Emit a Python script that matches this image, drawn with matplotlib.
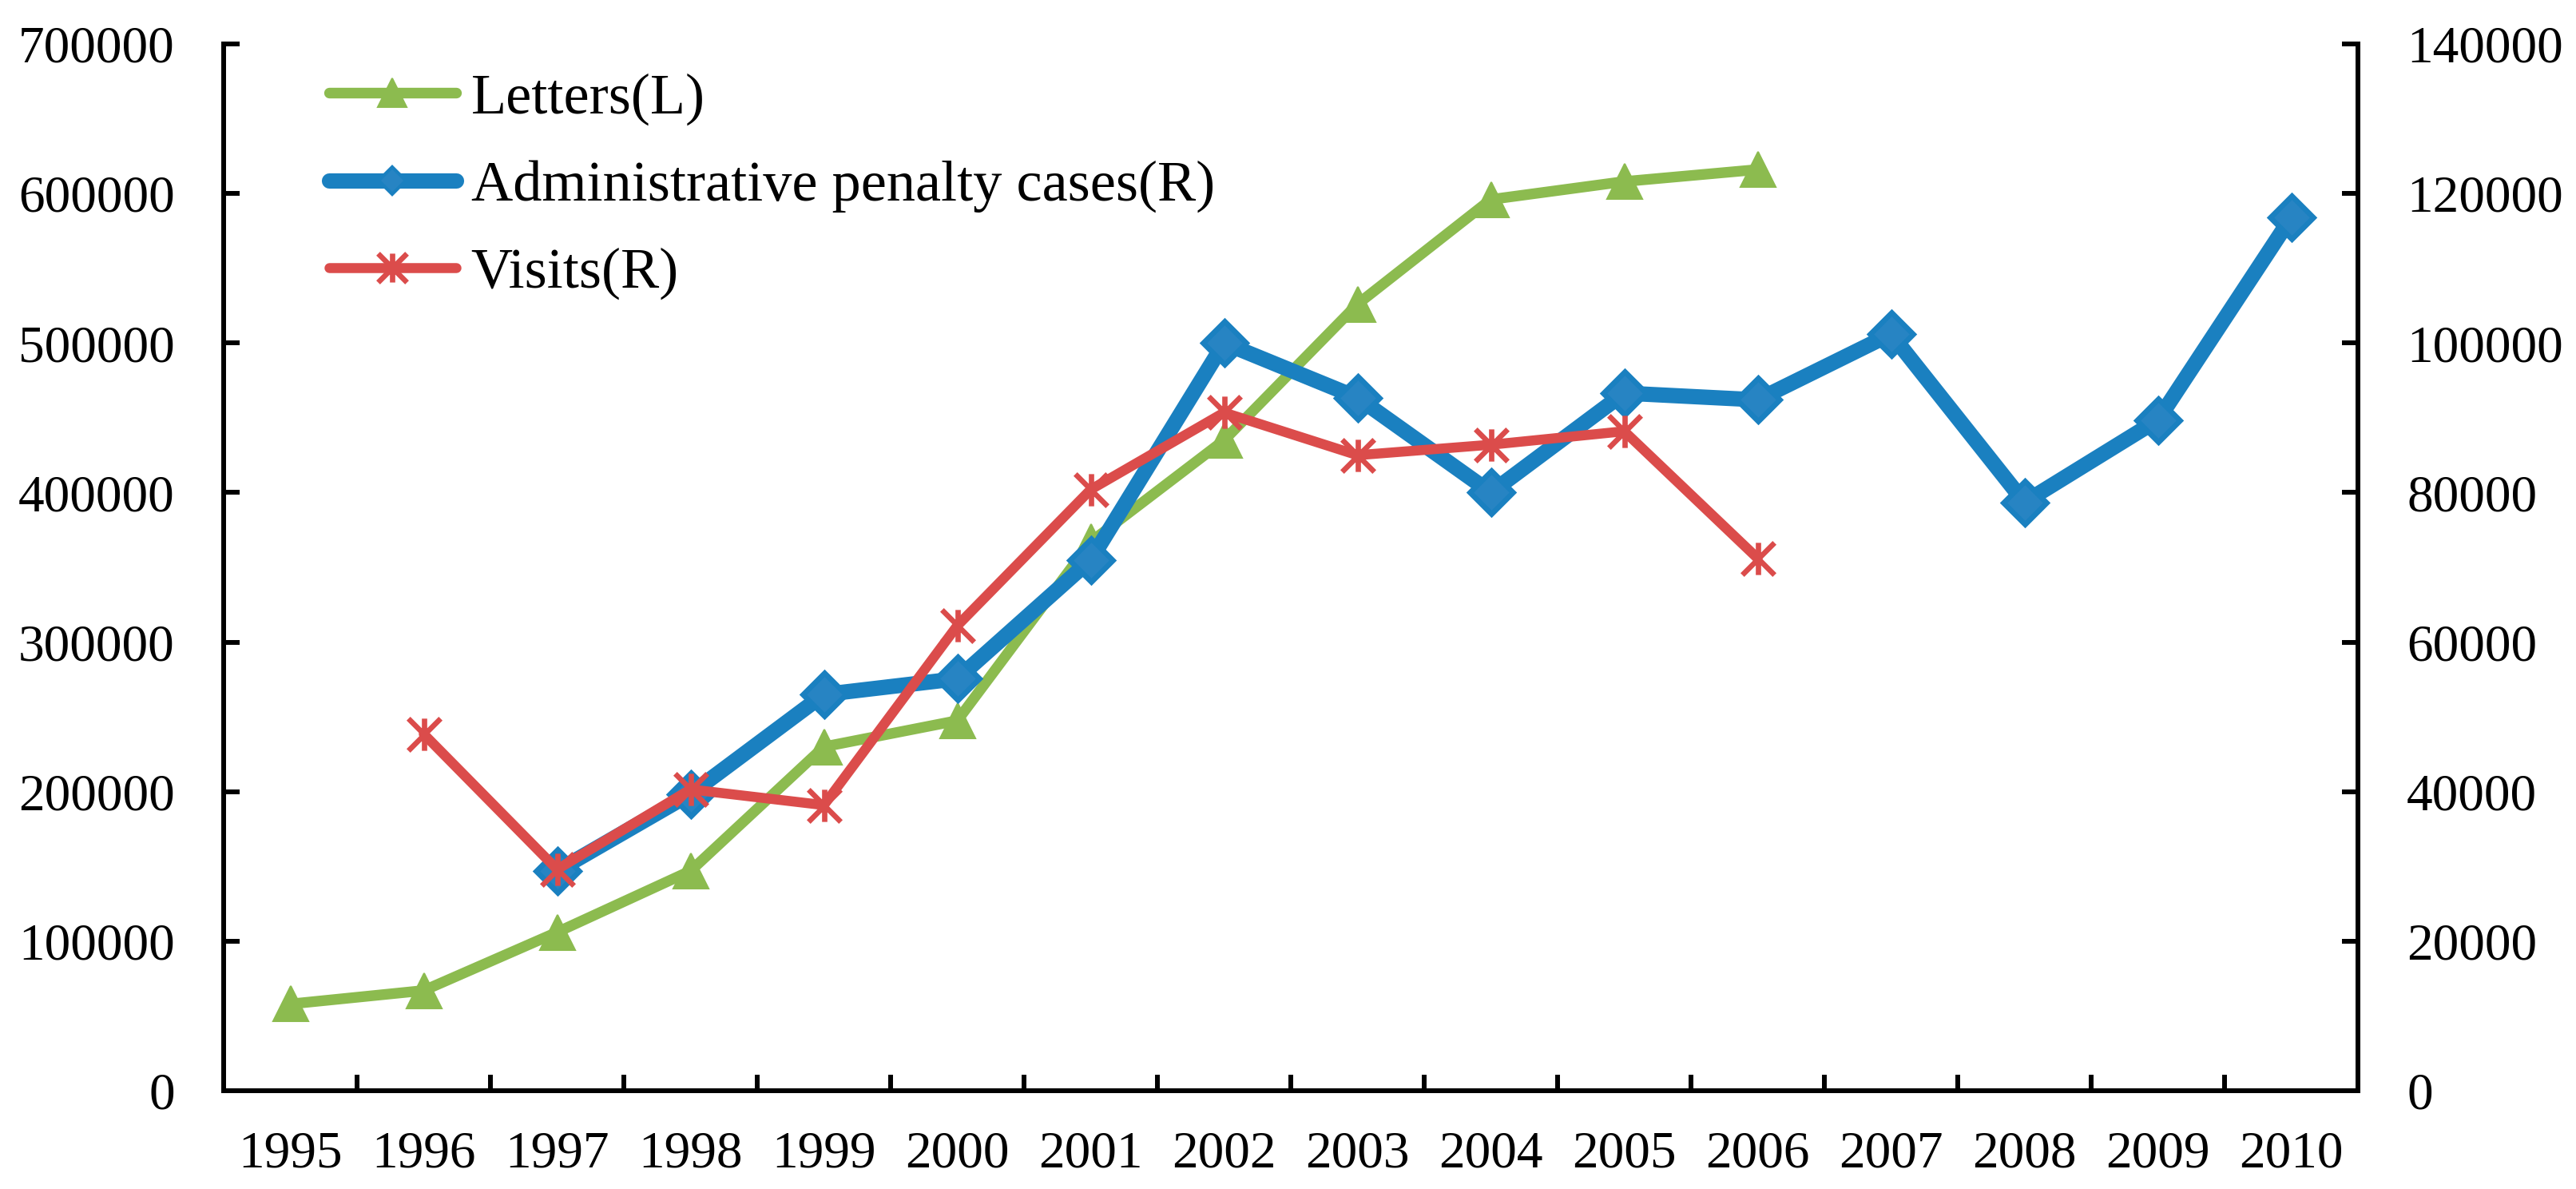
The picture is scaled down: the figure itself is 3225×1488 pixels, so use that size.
import matplotlib
matplotlib.use("Agg")
import matplotlib.pyplot as plt
import numpy as np
from matplotlib.lines import Line2D
from matplotlib.path import Path
from matplotlib.ticker import StrMethodFormatter

# data (None = no value for that year)
years = [str(y) for y in range(1995, 2011)]
letters = [58000, 67000, 106000, 147000, 230000, 247500, 367000, 435000,
           526000, 596000, 608000, 616000, None, None, None, None]
penalty_cases = [None, None, 29400, 39700, 53000, 55100, 71000, 100000,
                 92700, 80000, 93300, 92400, 101200, 78700, 89700, 116800]
visits = [None, 47700, 29600, 40300, 38200, 62200, 80400, 90700,
          85000, 86400, 88200, 71200, None, None, None, None]

left_ticks = list(range(0, 700001, 100000))
right_ticks = list(range(0, 140001, 20000))

green = '#8cbb4f'
blue = '#1a80c0'
blue_face = '#2784c3'
red = '#db4c4b'

plt.rcParams['font.family'] = ['Liberation Serif', 'DejaVu Serif']

# star marker: vertical bar plus an X
star = Path([(0, -1), (0, 1), (-1, -1), (1, 1), (-1, 1), (1, -1)],
            [Path.MOVETO, Path.LINETO] * 3)


def to_arr(vals):
    return np.array([np.nan if v is None else v for v in vals], dtype=float)


x = np.arange(len(years))

fig = plt.figure(figsize=(32.25, 14.88), dpi=100)
ax = fig.add_axes([280 / 3225, 123 / 1488, (2952 - 280) / 3225, (1365 - 55) / 1488])
ax2 = ax.twinx()

# left axis series
ax.plot(x, to_arr(letters), color=green, lw=9.6, marker='^', ms=32,
        mfc=green, mec=green, mew=1.5, solid_capstyle='round',
        solid_joinstyle='round', zorder=3)

# right axis series
ax2.plot(x, to_arr(penalty_cases), color=blue, lw=13.8, marker='D', ms=28,
         mfc=blue_face, mec=blue, mew=4.8, solid_capstyle='round',
         solid_joinstyle='round', zorder=3)
ax2.plot(x, to_arr(visits), color=red, lw=9.0, marker=star, ms=29,
         mfc='none', mec=red, mew=4.8, solid_capstyle='round',
         solid_joinstyle='round', zorder=4)

ax.set_xlim(-0.5, len(years) - 0.5)
ax.set_ylim(0, 700000)
ax2.set_ylim(0, 140000)

ax.set_yticks(left_ticks)
ax2.set_yticks(right_ticks)
ax.yaxis.set_major_formatter(StrMethodFormatter('{x:.0f}'))
ax2.yaxis.set_major_formatter(StrMethodFormatter('{x:.0f}'))

ax.set_xticks(x)
ax.set_xticklabels(years)
ax.set_xticks(np.arange(0.5, len(years) - 1, 1), minor=True)

ax.tick_params(axis='x', which='major', length=0, pad=36, labelsize=47)
ax.tick_params(axis='x', which='minor', direction='in', length=14.4, width=4.3)
ax.tick_params(axis='y', direction='in', length=14.4, width=4.3, pad=44, labelsize=47)
ax2.tick_params(axis='y', direction='in', length=14.4, width=4.3, pad=44, labelsize=47)

for a in (ax, ax2):
    a.spines['top'].set_visible(False)
    for s in a.spines.values():
        s.set_linewidth(4.3)
ax2.spines['left'].set_visible(False)
ax2.spines['bottom'].set_visible(False)
ax.spines['right'].set_visible(False)

# legend with smaller markers, like the original
handles = [
    Line2D([], [], color=green, lw=9.6, marker='^', ms=26, mfc=green,
           mec=green, mew=1.5, solid_capstyle='round'),
    Line2D([], [], color=blue, lw=13.8, marker='D', ms=17, mfc=blue_face,
           mec=blue, mew=3, solid_capstyle='round'),
    Line2D([], [], color=red, lw=9.0, marker=star, ms=26, mfc='none',
           mec=red, mew=4.8, solid_capstyle='round'),
]
labels = ['Letters(L)', 'Administrative penalty cases(R)', 'Visits(R)']
fig.legend(handles, labels, loc='upper left',
           bbox_to_anchor=(412 / 3225, 1 - 91 / 1488),
           frameon=False, fontsize=52, handlelength=2.2,
           handletextpad=0.26, labelspacing=0.6, borderpad=0,
           borderaxespad=0)

fig.savefig('out.png', dpi=100, facecolor='white')
